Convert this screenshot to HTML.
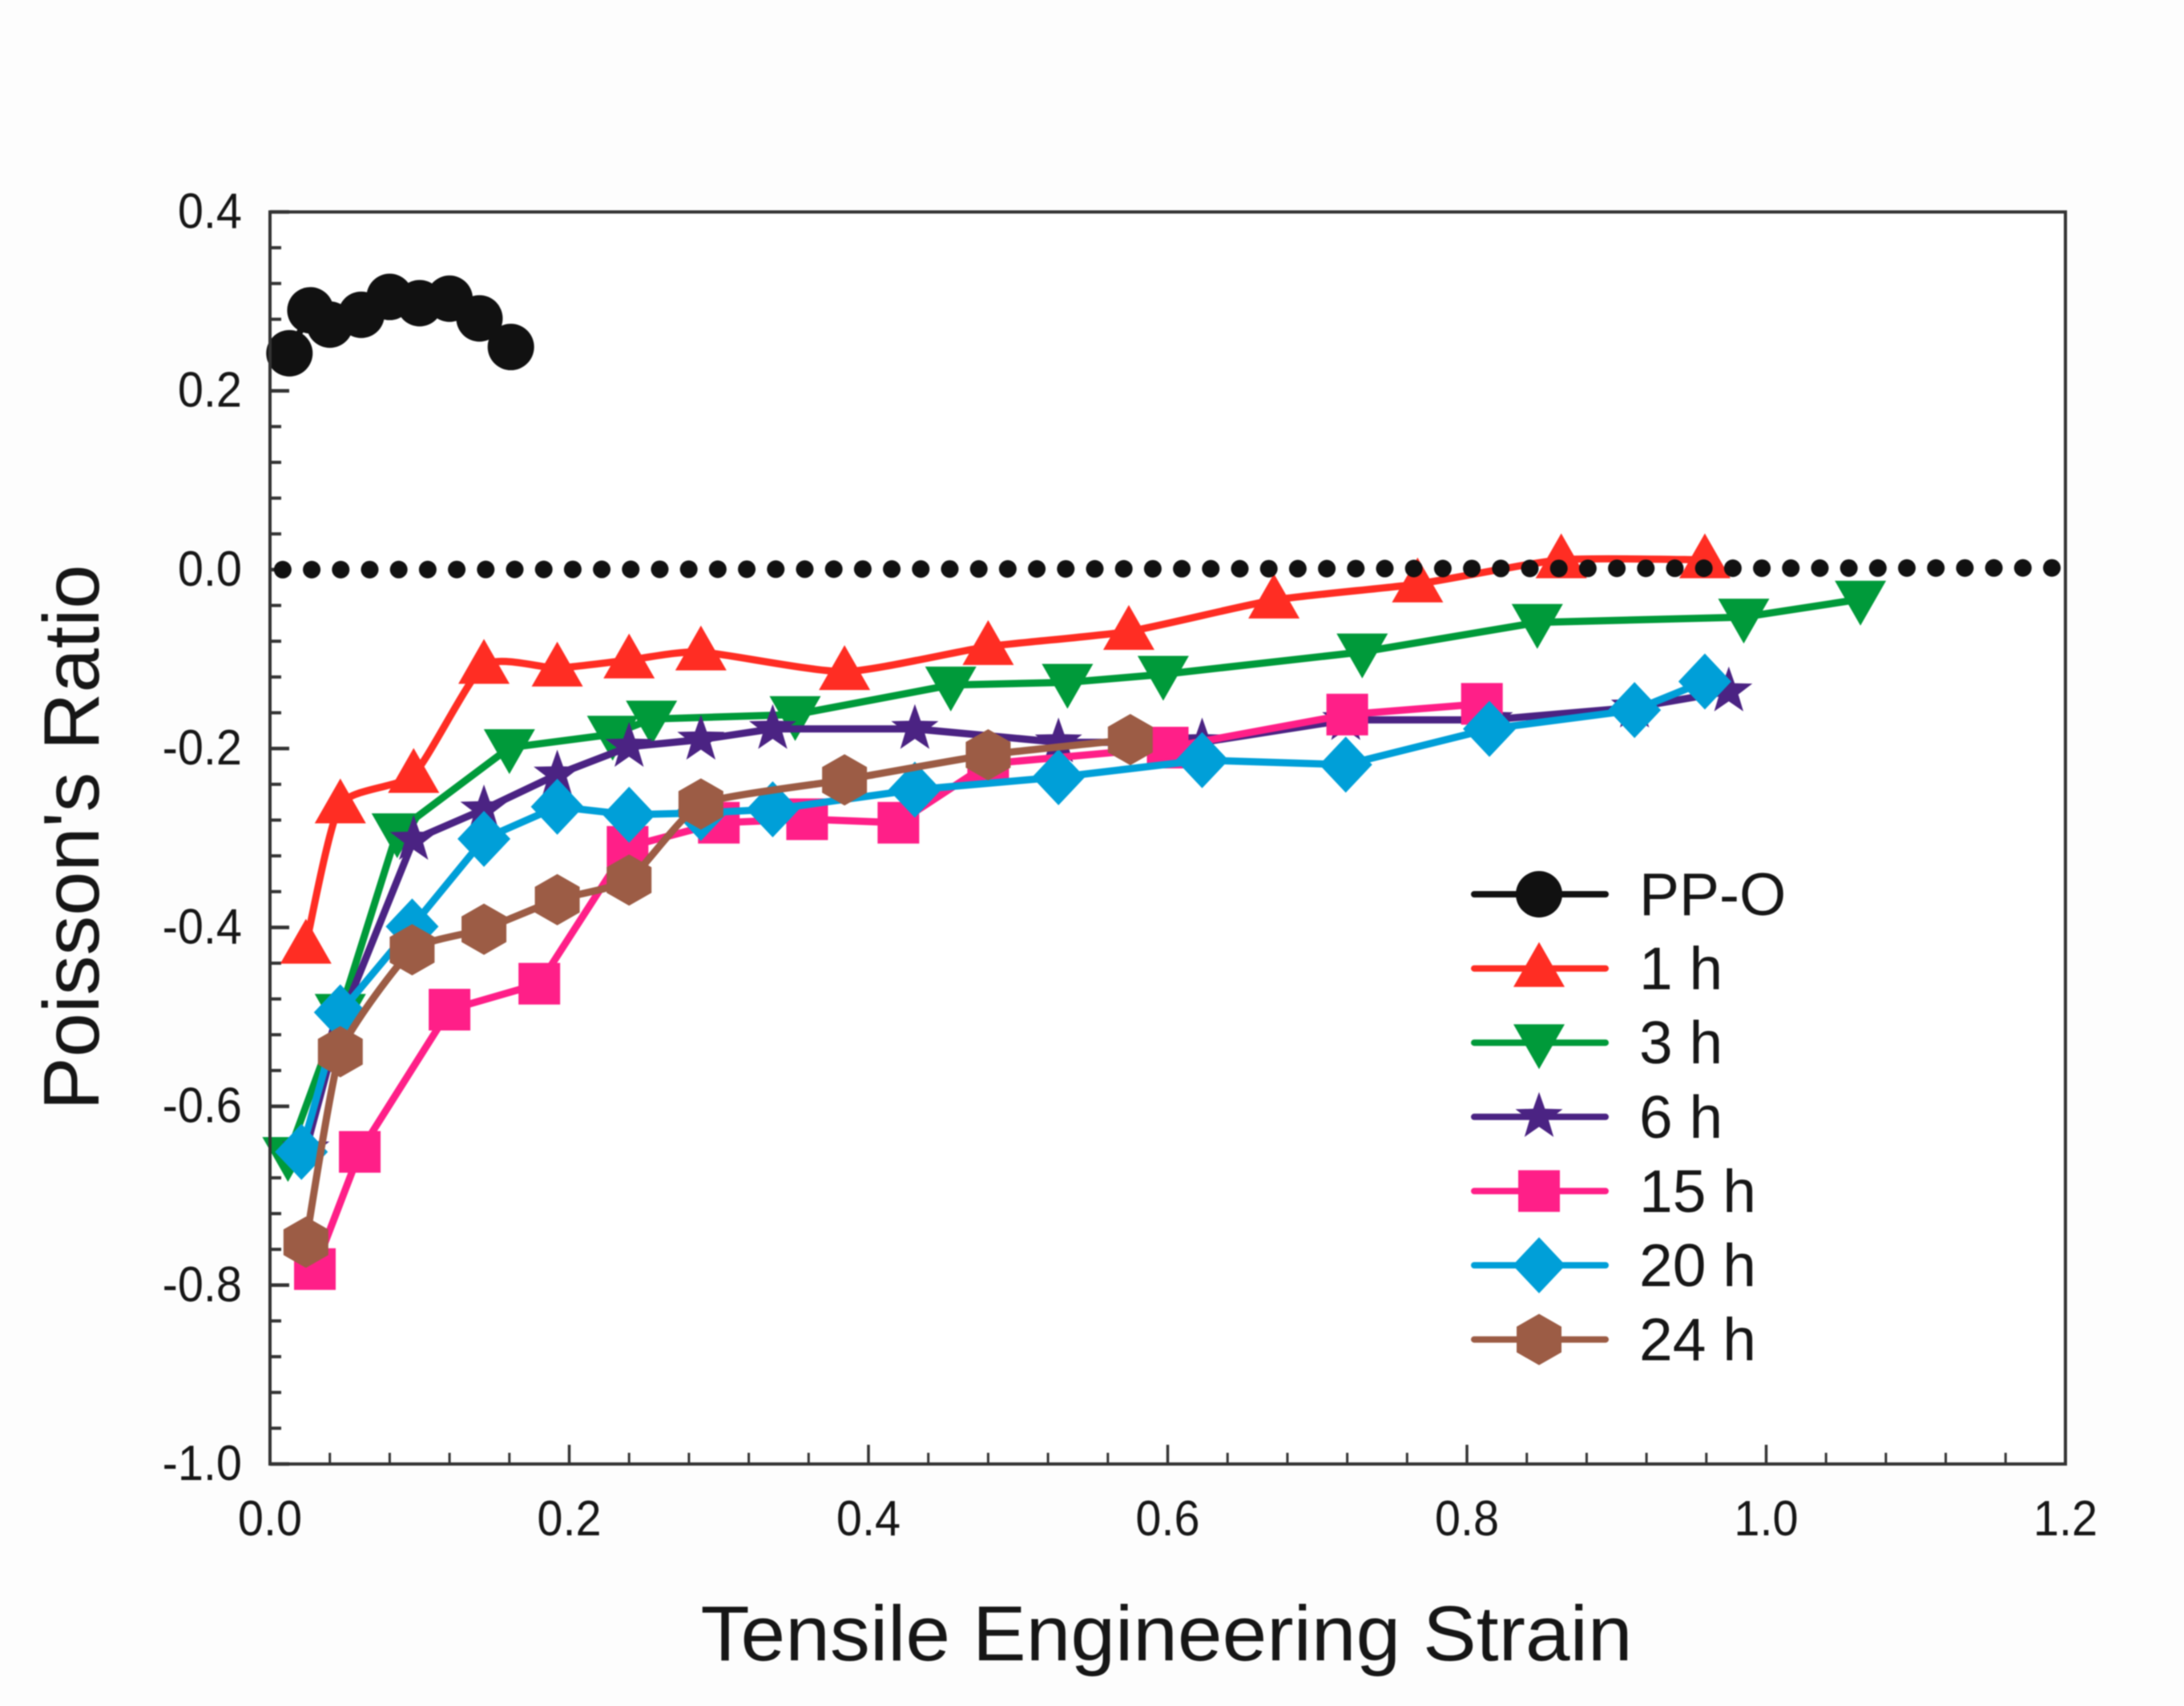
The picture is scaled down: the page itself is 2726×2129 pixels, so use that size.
<!DOCTYPE html>
<html lang="en">
<head>
<meta charset="utf-8">
<title>Poisson's Ratio vs Tensile Engineering Strain</title>
<style>
html,body{margin:0;padding:0;background:#fdfdfd;width:2726px;height:2129px;overflow:hidden}
svg{display:block;filter:blur(0.7px)}
text{font-family:"Liberation Sans",Arial,sans-serif;fill:#161616}
</style>
</head>
<body>
<svg id="chart" xmlns="http://www.w3.org/2000/svg" width="2726" height="2129" viewBox="0 0 2726 2129">
  <rect x="0" y="0" width="2726" height="2129" fill="#fdfdfd"/>
  <rect x="337" y="264.5" width="2241" height="1562.5" fill="#ffffff"/>
  <g id="ticks"></g>
  <g id="tickLabels"></g>
  <g id="series"></g>
  <path id="zero" fill="none" stroke="#111111" stroke-width="22" stroke-linecap="round" stroke-dasharray="0 36.2"/>
  <rect x="337" y="264.5" width="2241" height="1562.5" fill="none" stroke="#333333" stroke-width="4"/>
  <g id="legend"></g>
  <text x="1456" y="2072" font-size="97" text-anchor="middle" textLength="1163" lengthAdjust="spacingAndGlyphs">Tensile Engineering Strain</text>
  <text transform="translate(123,1045) rotate(-90)" font-size="98" text-anchor="middle" textLength="681" lengthAdjust="spacingAndGlyphs">Poisson's Ratio</text>
</svg>
<script>
// ---- tick labels ----
const xTickValues = [0, 0.2, 0.4, 0.6, 0.8, 1.0, 1.2];
const xTickLabels = ["0.0", "0.2", "0.4", "0.6", "0.8", "1.0", "1.2"];
const yTickValues = [0.4, 0.2, 0, -0.2, -0.4, -0.6, -0.8, -1.0];
const yTickLabels = ["0.4", "0.2", "0.0", "-0.2", "-0.4", "-0.6", "-0.8", "-1.0"];
const minorPerMajor = 5;

// ---- series values ----
const ppoX = [0.013, 0.027, 0.04, 0.061, 0.08, 0.1, 0.12, 0.14, 0.161];
const ppoY = [0.242, 0.29, 0.274, 0.285, 0.305, 0.298, 0.303, 0.281, 0.249];
const h1X = [0.024, 0.047, 0.096, 0.143, 0.192, 0.24, 0.288, 0.384, 0.48, 0.574, 0.671, 0.767, 0.863, 0.959];
const h1Y = [-0.42, -0.263, -0.229, -0.107, -0.11, -0.101, -0.092, -0.114, -0.086, -0.069, -0.034, -0.016, 0.011, 0.011];
const h3X = [0.012, 0.047, 0.085, 0.16, 0.229, 0.255, 0.351, 0.455, 0.533, 0.597, 0.73, 0.847, 0.985, 1.063];
const h3Y = [-0.655, -0.495, -0.293, -0.199, -0.184, -0.167, -0.162, -0.129, -0.126, -0.117, -0.092, -0.059, -0.053, -0.033];
const h6X = [0.024, 0.047, 0.096, 0.143, 0.192, 0.24, 0.288, 0.336, 0.431, 0.527, 0.623, 0.719, 0.815, 0.912, 0.975];
const h6Y = [-0.648, -0.505, -0.302, -0.268, -0.229, -0.198, -0.19, -0.178, -0.178, -0.193, -0.193, -0.168, -0.168, -0.154, -0.136];
const h15X = [0.03, 0.06, 0.12, 0.18, 0.239, 0.3, 0.359, 0.42, 0.48, 0.6, 0.72, 0.81];
const h15Y = [-0.782, -0.651, -0.492, -0.463, -0.31, -0.283, -0.279, -0.283, -0.217, -0.199, -0.162, -0.15];
const h20X = [0.021, 0.047, 0.095, 0.143, 0.192, 0.24, 0.288, 0.336, 0.431, 0.527, 0.623, 0.719, 0.815, 0.912, 0.959];
const h20Y = [-0.651, -0.495, -0.399, -0.301, -0.265, -0.274, -0.272, -0.268, -0.246, -0.232, -0.213, -0.218, -0.178, -0.157, -0.125];
const h24X = [0.024, 0.047, 0.095, 0.143, 0.192, 0.24, 0.288, 0.384, 0.48, 0.575];
const h24Y = [-0.752, -0.539, -0.425, -0.402, -0.369, -0.347, -0.262, -0.235, -0.207, -0.19];
const zeroLineX = [0.0085, 1.2];
const zeroLineY = [0, 0.002];

// ---- legend labels ----
const legendLabels = ["PP-O", "1 h", "3 h", "6 h", "15 h", "20 h", "24 h"];

// ---- axis functions ----
const plot = {left: 337, right: 2578, top: 264.5, bottom: 1827};
const xMin = 0, xMax = 1.2, yMin = -1.0, yMax = 0.4;
function xAxis(v) { return plot.left + (v - xMin) / (xMax - xMin) * (plot.right - plot.left); }
function yAxis(v) { return plot.bottom - (v - yMin) / (yMax - yMin) * (plot.bottom - plot.top); }

const NS = "http://www.w3.org/2000/svg";
function make(tag, parent) {
  const el = document.createElementNS(NS, tag);
  parent.appendChild(el);
  return el;
}
function condense(t) {
  t.setAttribute("textLength", t.getComputedTextLength() * 0.93);
  t.setAttribute("lengthAdjust", "spacingAndGlyphs");
}

// ---- ticks ----
const tickGroup = document.getElementById("ticks");
const labelGroup = document.getElementById("tickLabels");
function tickLine(x1, y1, x2, y2, w) {
  const l = make("line", tickGroup);
  
  
  l.setAttribute("x1", x1); l.setAttribute("y1", y1);
  l.setAttribute("x2", x2); l.setAttribute("y2", y2);
  l.setAttribute("stroke", "#333333");
  l.setAttribute("stroke-width", w);
}
xTickValues.forEach((v, i) => {
  const px = xAxis(v);
  tickLine(px, plot.bottom, px, plot.bottom - 24, 3.5);
  if (i < xTickValues.length - 1) {
    const step = (xTickValues[i + 1] - v) / minorPerMajor;
    for (let k = 1; k < minorPerMajor; k++) {
      tickLine(xAxis(v + step * k), plot.bottom, xAxis(v + step * k), plot.bottom - 14, 3);
    }
  }
  const t = make("text", labelGroup);
  
  
  t.setAttribute("x", px);
  t.setAttribute("y", 1916);
  t.setAttribute("font-size", "62");
  t.setAttribute("text-anchor", "middle");
  t.textContent = xTickLabels[i];
  condense(t);
});
yTickValues.forEach((v, i) => {
  const py = yAxis(v);
  tickLine(plot.left, py, plot.left + 24, py, 4.5);
  if (i < yTickValues.length - 1) {
    const step = (yTickValues[i + 1] - v) / minorPerMajor;
    for (let k = 1; k < minorPerMajor; k++) {
      tickLine(plot.left, yAxis(v + step * k), plot.left + 14, yAxis(v + step * k), 4);
    }
  }
  const t = make("text", labelGroup);
  
  
  t.setAttribute("x", 302);
  t.setAttribute("y", py + 20);
  t.setAttribute("font-size", "62");
  t.setAttribute("text-anchor", "end");
  t.textContent = yTickLabels[i];
  condense(t);
});

// ---- marker shapes ----
function markerPoints(shape) {
  if (shape === "up") return [[0, -33], [32, 23], [-32, 23]];
  if (shape === "down") return [[-32, -23], [32, -23], [0, 33]];
  if (shape === "square") return [[-26, -26], [26, -26], [26, 26], [-26, 26]];
  if (shape === "diamond") return [[0, -35], [33, 0], [0, 35], [-33, 0]];
  if (shape === "hexagon") return [[0, -32], [28, -16], [28, 16], [0, 32], [-28, 16], [-28, -16]];
  if (shape === "star") {
    const out = [];
    for (let i = 0; i < 10; i++) {
      const r = i % 2 === 0 ? 31 : 12.5;
      const a = -Math.PI / 2 + i * Math.PI / 5;
      out.push([r * Math.cos(a), r * Math.sin(a)]);
    }
    return out;
  }
  return null;
}
function drawMarker(parent, shape, px, py, color, name) {
  let m;
  if (shape === "circle") {
    m = make("circle", parent);
    m.setAttribute("cx", px);
    m.setAttribute("cy", py);
    m.setAttribute("r", 29);
  } else {
    m = make("polygon", parent);
    m.setAttribute("points", markerPoints(shape).map(p => (px + p[0]) + "," + (py + p[1])).join(" "));
  }
  m.setAttribute("fill", color);
  
  
}
function linePath(pts, smooth) {
  let d = "M" + pts[0][0] + " " + pts[0][1];
  for (let i = 1; i < pts.length; i++) {
    if (!smooth) { d += " L" + pts[i][0] + " " + pts[i][1]; continue; }
    const p0 = pts[Math.max(0, i - 2)], p1 = pts[i - 1], p2 = pts[i], p3 = pts[Math.min(pts.length - 1, i + 1)];
    const c1x = p1[0] + (p2[0] - p0[0]) * smooth, c1y = p1[1] + (p2[1] - p0[1]) * smooth;
    const c2x = p2[0] - (p3[0] - p1[0]) * smooth, c2y = p2[1] - (p3[1] - p1[1]) * smooth;
    d += " C" + c1x + " " + c1y + " " + c2x + " " + c2y + " " + p2[0] + " " + p2[1];
  }
  return d;
}

// ---- series ----
const seriesGroup = document.getElementById("series");
const legendGroup = document.getElementById("legend");
const seriesDefs = [
  {id: "pp-o", xs: ppoX, ys: ppoY, color: "#111111", shape: "circle", smooth: 0, w: 8},
  {id: "1h", xs: h1X, ys: h1Y, color: "#ff2d23", shape: "up", smooth: 0.1, w: 9},
  {id: "3h", xs: h3X, ys: h3Y, color: "#009a3a", shape: "down", smooth: 0, w: 9},
  {id: "6h", xs: h6X, ys: h6Y, color: "#4b2383", shape: "star", smooth: 0, w: 9},
  {id: "15h", xs: h15X, ys: h15Y, color: "#ff1f88", shape: "square", smooth: 0, w: 9},
  {id: "20h", xs: h20X, ys: h20Y, color: "#009fd8", shape: "diamond", smooth: 0, w: 9},
  {id: "24h", xs: h24X, ys: h24Y, color: "#9c5c45", shape: "hexagon", smooth: 0.08, w: 9}
];
const legendRowY = 1116, legendRowStep = 92.6;
seriesDefs.forEach((s, i) => {
  const g = make("g", seriesGroup);
  
  
  const pts = s.xs.map((x, k) => [xAxis(x), yAxis(s.ys[k])]);
  const path = make("path", g);
  
  
  path.setAttribute("d", linePath(pts, s.smooth));
  path.setAttribute("fill", "none");
  path.setAttribute("stroke", s.color);
  path.setAttribute("stroke-width", s.w);
  path.setAttribute("stroke-linejoin", "round");
  pts.forEach(p => drawMarker(g, s.shape, p[0], p[1], s.color, "marker-" + s.id));

  const row = make("g", legendGroup);
  
  
  const ly = legendRowY + i * legendRowStep;
  const sample = make("line", row);
  
  
  sample.setAttribute("x1", 1840); sample.setAttribute("x2", 2004);
  sample.setAttribute("y1", ly); sample.setAttribute("y2", ly);
  sample.setAttribute("stroke", s.color);
  sample.setAttribute("stroke-width", 8);
  sample.setAttribute("stroke-linecap", "round");
  drawMarker(row, s.shape, 1921, ly, s.color, "legend-marker-" + s.id);
  const t = make("text", row);
  
  
  t.setAttribute("x", 2046);
  t.setAttribute("y", ly + 26);
  t.setAttribute("font-size", "75");
  t.textContent = legendLabels[i];
});

// ---- zero reference line ----
document.getElementById("zero").setAttribute("d",
  "M" + xAxis(zeroLineX[0]) + " " + yAxis(zeroLineY[0]) + " L" + xAxis(zeroLineX[1]) + " " + yAxis(zeroLineY[1]));
</script>
</body>
</html>
